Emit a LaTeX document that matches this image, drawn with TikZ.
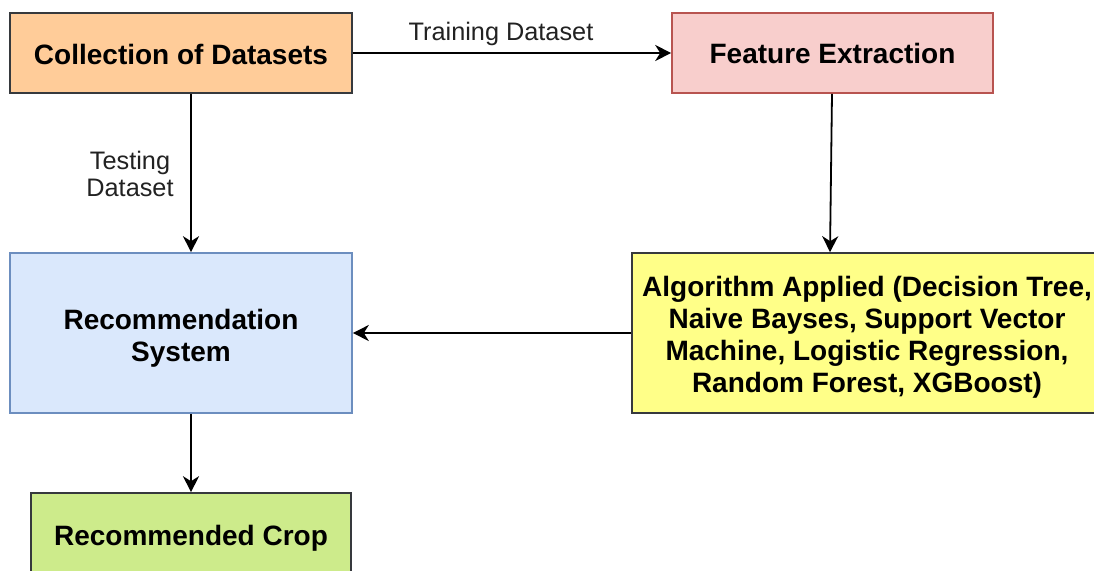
\documentclass[tikz,border=0pt]{standalone}
\usepackage{fontspec}
\setmainfont{Liberation Sans}
\usetikzlibrary{arrows.meta}
\definecolor{darkstroke}{HTML}{36393D}
\definecolor{orangefill}{HTML}{FFCC99}
\definecolor{redfill}{HTML}{F8CECC}
\definecolor{redstroke}{HTML}{B85450}
\definecolor{yellowfill}{HTML}{FFFF88}
\definecolor{bluefill}{HTML}{DAE8FC}
\definecolor{bluestroke}{HTML}{6C8EBF}
\definecolor{greenfill}{HTML}{CDEB8B}
\definecolor{labelgray}{HTML}{222222}
\newcommand{\lowered}[2]{\raisebox{-#1}[\height][\depth]{\begin{tabular}{@{}c@{}}#2\end{tabular}}}
\tikzset{
  box/.style={draw, line width=1.6pt, inner sep=0pt, align=center,
    font=\fontsize{28}{32}\selectfont\bfseries},
  conn/.style={line width=1.8pt, black, -{Stealth[length=16pt,width=16pt,inset=5pt]}},
  elabel/.style={text=labelgray, align=center, font=\fontsize{25.3}{27.5}\selectfont},
}
\begin{document}
\begin{tikzpicture}[x=1pt,y=-1pt]
\clip (0,0) rectangle (1094,570);
\fill[white] (0,0) rectangle (1094,570);
\node[box, draw=darkstroke, fill=orangefill, minimum width=342pt, minimum height=80pt] (coll) at (181,53) {\lowered{5pt}{Collection of Datasets}};
\node[box, draw=redstroke, fill=redfill, minimum width=321pt, minimum height=80pt] (fe) at (832.5,53) {\lowered{4.5pt}{Feature Extraction}};
\node[box, draw=darkstroke, fill=yellowfill, minimum width=470pt, minimum height=160pt] (alg) at (867,333) {\lowered{5pt}{Algorithm Applied (Decision Tree,\\Naive Bayses, Support Vector\\Machine, Logistic Regression,\\Random Forest, XGBoost)}};
\node[box, draw=bluestroke, fill=bluefill, minimum width=342pt, minimum height=160pt] (rec) at (181,333) {\lowered{6pt}{Recommendation\\System}};
\node[box, draw=darkstroke, fill=greenfill, minimum width=320pt, minimum height=82pt] (crop) at (191,534) {\lowered{5pt}{Recommended Crop}};
\draw[conn] (coll.east) -- (fe.west);
\node[elabel] (trainlbl) at (501,34) {Training Dataset};
\draw[conn] ([xshift=10pt]coll.south) -- ([xshift=10pt]rec.north);
\node[elabel] (testlbl) at (130,174) {Testing\\Dataset};
\draw[conn] ([xshift=-0.5pt]fe.south) -- ([xshift=-37pt]alg.north);
\draw[conn] (alg.west) -- (rec.east);
\draw[conn] ([xshift=10pt]rec.south) -- (crop.north);
\end{tikzpicture}
\end{document}
